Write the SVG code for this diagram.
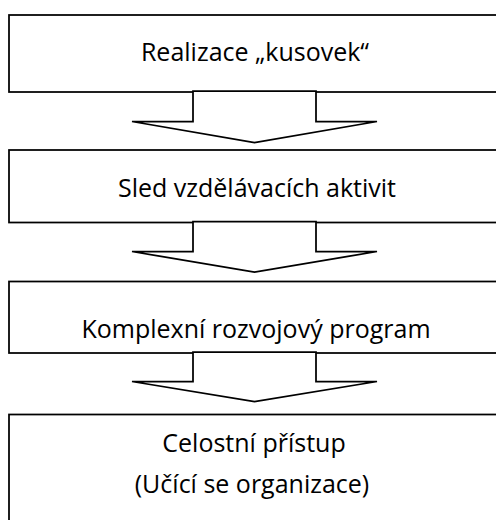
<svg xmlns="http://www.w3.org/2000/svg" width="496" height="520" viewBox="0 0 496 520">
<style>
.box{fill:#fff;stroke:#000;stroke-width:1.75}
.arr{fill:#fff;stroke:#000;stroke-width:1.75;stroke-linejoin:miter}
.t{font-family:"Open Sans","Noto Sans",sans-serif;font-size:25px;fill:#000;text-anchor:middle}
</style>
<rect width="496" height="520" fill="#fff"/>
<g id="n1"><rect class="box" x="9" y="15" width="500" height="77"/><text class="t" x="255" y="61">Realizace „kusovek“</text></g>
<g id="n2"><rect class="box" x="9" y="150" width="500" height="72.5"/><text class="t" x="257" y="197">Sled vzdělávacích aktivit</text></g>
<g id="n3"><rect class="box" x="9" y="281.5" width="500" height="71.5"/><text class="t" x="256" y="338">Komplexní rozvojový program</text></g>
<g id="n4"><rect class="box" x="9" y="414.5" width="500" height="120"/><text class="t" x="254" y="452">Celostní přístup</text><text class="t" x="252" y="493">(Učící se organizace)</text></g>
<g id="connectors">
<polygon class="arr" points="193,91 193,121.5 132,121.5 254.5,142.5 377,121.5 316,121.5 316,91"/>
<polygon class="arr" points="193,221.5 193,251.5 132,251.5 254.5,272 377,251.5 316,251.5 316,221.5"/>
<polygon class="arr" points="193,352 193,381.5 132,381.5 254.5,401.5 377,381.5 316,381.5 316,352"/>
</g>
</svg>
